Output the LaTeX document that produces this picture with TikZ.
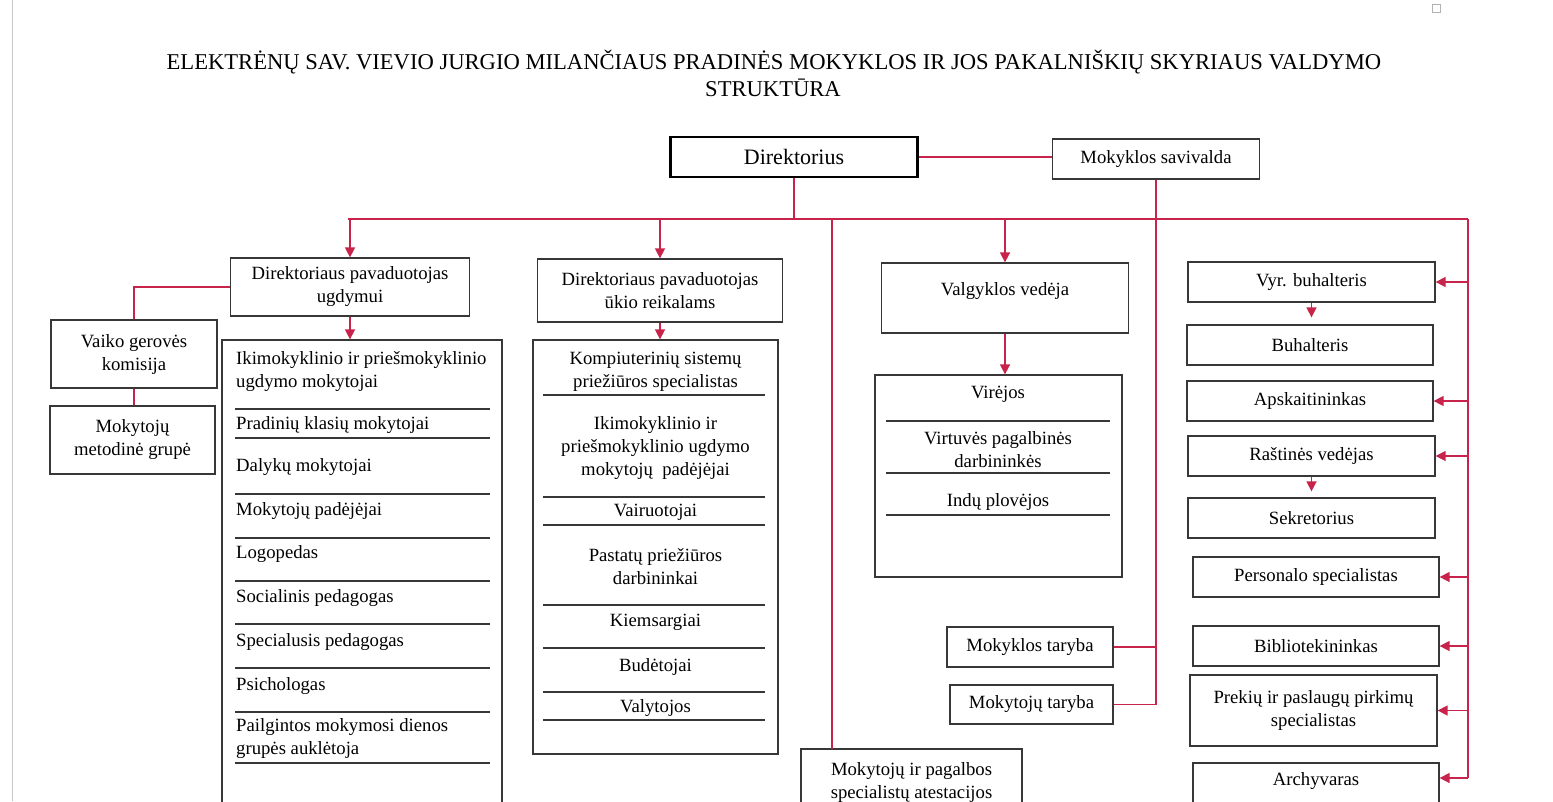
\documentclass[tikz,border=0pt]{standalone}
\usepackage{fontspec}
\setmainfont{Liberation Serif}
\usetikzlibrary{arrows.meta}
\definecolor{linkred}{RGB}{200,35,75}
\definecolor{boxgray}{RGB}{55,55,55}
\newcommand\BoxFont{\fontsize{18.7pt}{23pt}\selectfont}
\newcommand\TitleFont{\fontsize{22.6pt}{26pt}\selectfont}
\newcommand\DirFont{\fontsize{22pt}{26pt}\selectfont}
\tikzset{
 box/.style={draw=boxgray, line width=1.3pt, fill=white, inner sep=0pt, align=center, font=\BoxFont},
 txt/.style={inner sep=0pt, font=\BoxFont, yshift=-1.5pt},
 ctxt/.style={txt, align=center},
 ltxt/.style={txt, align=left, anchor=west},
 sepline/.style={draw=boxgray, line width=1.3pt},
 conn/.style={draw=linkred, line width=1.6pt},
 arr/.style={conn, -{Triangle[length=10pt,width=10pt]}},
}
\begin{document}
\begin{tikzpicture}[x=1pt,y=-1pt]
\fill[white] (0,0) rectangle (1553,801);
\useasboundingbox (0,0) rectangle (1553,801);
\clip (0,0) rectangle (1553,801);

% page decorations
\draw[gray!45, line width=0.8pt] (12,0) -- (12,801);
\draw[gray!60, line width=0.6pt] (1432,4) rectangle (1440,12);

% title
\node[font=\TitleFont, inner sep=0pt] (t1) at (774,62) {ELEKTRĖNŲ SAV. VIEVIO JURGIO MILANČIAUS PRADINĖS MOKYKLOS IR JOS PAKALNIŠKIŲ SKYRIAUS VALDYMO};
\node[font=\TitleFont, inner sep=0pt] (t2) at (773,88) {STRUKTŪRA};

% top
\node[box, draw=black, line width=2.6pt, font=\DirFont, minimum width=247pt, minimum height=40pt] (dir) at (794,157) {Direktorius};
\node[box, minimum width=207pt, minimum height=40pt] (sav) at (1156,159) {Mokyklos savivalda};

% level 2
\node[box, minimum width=239pt, minimum height=58pt] (dpu) at (350,287) {Direktoriaus pavaduotojas\\ugdymui};
\node[box, minimum width=245pt, minimum height=63pt] (dpk) at (660,290.5) {Direktoriaus pavaduotojas\\ūkio reikalams};
\node[box, minimum width=247pt, minimum height=70pt] (vv) at (1005,298) {};
\node[ctxt] (vvt) at (1005,290) {Valgyklos vedėja};

% left small boxes
\node[box, minimum width=166pt, minimum height=68pt] (vgk) at (134,354) {Vaiko gerovės\\komisija};
\node[box, minimum width=165pt, minimum height=68pt] (mmg) at (132.5,440) {Mokytojų\\metodinė grupė};

% list 1
\node[box, minimum width=280pt, minimum height=490pt] (l1) at (362,585) {};
\node[ltxt] (a1) at (236,370.5) {Ikimokyklinio ir priešmokyklinio\\ugdymo mokytojai};
\node[ltxt] (a2) at (236,424) {Pradinių klasių mokytojai};
\node[ltxt] (a3) at (236,466) {Dalykų mokytojai};
\node[ltxt] (a4) at (236,510) {Mokytojų padėjėjai};
\node[ltxt] (a5) at (236,553) {Logopedas};
\node[ltxt] (a6) at (236,597) {Socialinis pedagogas};
\node[ltxt] (a7) at (236,641) {Specialusis pedagogas};
\node[ltxt] (a8) at (236,685) {Psichologas};
\node[ltxt] (a9) at (236,737) {Pailgintos mokymosi dienos\\grupės auklėtoja};
\foreach \yy in {409,438,494,538,581,624,668,712,763}
  \draw[sepline] (235,\yy) -- (490,\yy);

% list 2
\node[box, minimum width=245pt, minimum height=414pt] (l2) at (655.5,547) {};
\node[ctxt] (b1) at (655.5,370.5) {Kompiuterinių sistemų\\priežiūros specialistas};
\node[ctxt] (b2) at (655.5,447) {Ikimokyklinio ir\\priešmokyklinio ugdymo\\mokytojų\ \ padėjėjai};
\node[ctxt] (b3) at (655.5,511) {Vairuotojai};
\node[ctxt] (b4) at (655.5,565) {Pastatų priežiūros\\darbininkai};
\node[ctxt] (b5) at (655.5,621) {Kiemsargiai};
\node[ctxt] (b6) at (655.5,665) {Budėtojai};
\node[ctxt] (b7) at (655.5,707) {Valytojos};
\foreach \yy in {395,497,525,605,648,692,720}
  \draw[sepline] (543,\yy) -- (765,\yy);

% kitchen list
\node[box, minimum width=247pt, minimum height=202pt] (kit) at (998.5,476) {};
\node[ctxt] (k1) at (998,393) {Virėjos};
\node[ctxt] (k2) at (998,448) {Virtuvės pagalbinės\\darbininkės};
\node[ctxt] (k3) at (998,500) {Indų plovėjos};
\foreach \yy in {421,473}
  \draw[sepline] (886,\yy) -- (1110,\yy);
\draw[sepline, line width=2.2pt] (886,515) -- (1110,515);

% councils
\node[box, minimum width=166pt, minimum height=40pt] (mt) at (1030,647) {Mokyklos taryba};
\node[box, minimum width=163pt, minimum height=39pt] (mkt) at (1031.5,704.5) {Mokytojų taryba};

% attestation
\node[box, minimum width=221pt, minimum height=81pt] (atest) at (911.5,789.5) {};
\node[ctxt] (att) at (911.5,780.5) {Mokytojų ir pagalbos\\specialistų atestacijos};

% right column
\node[box, minimum width=247pt, minimum height=40pt] (vb) at (1311.5,282) {Vyr. buhalteris};
\node[box, minimum width=246pt, minimum height=40pt] (bh) at (1310,345) {Buhalteris};
\node[box, minimum width=246pt, minimum height=40pt] (ap) at (1310,401) {Apskaitininkas};
\node[box, minimum width=247pt, minimum height=40pt] (rv) at (1311.5,456) {Raštinės vedėjas};
\node[box, minimum width=247pt, minimum height=40pt] (sk) at (1311.5,518) {Sekretorius};
\node[box, minimum width=246pt, minimum height=40pt] (ps) at (1316,577) {Personalo specialistas};
\node[box, minimum width=246pt, minimum height=40pt] (bib) at (1316,646) {Bibliotekininkas};
\node[box, minimum width=247pt, minimum height=71pt] (pr) at (1313.5,710.5) {Prekių ir paslaugų pirkimų\\specialistas};
\node[box, minimum width=246pt, minimum height=44pt] (arch) at (1316,785) {};
\node[ctxt] (archt) at (1316,780) {Archyvaras};

% connectors
\coordinate (busL) at (348,219);
\coordinate (busR) at (1468,219);
\coordinate (rEnd) at (1468,778);
\coordinate (atTop) at (832,749);
\draw[conn] (dir.east) -- (dir.east -| sav.west);
\draw[conn] (dir.south) -- (dir.south |- busL);
\draw[conn] (busL) -- (busR);
\draw[arr] (dpu.north |- busL) -- (dpu.north);
\draw[arr] (dpk.north |- busL) -- (dpk.north);
\draw[conn] (atTop |- busL) -- (atTop);
\draw[arr] (vv.north |- busL) -- (vv.north);
\draw[conn] (busR) -- (rEnd);

\draw[conn] (dpu.west) -| (vgk.north);
\draw[conn] (vgk.south) -- (vgk.south |- mmg.north);
\draw[arr] (dpu.south) -- (dpu.south |- l1.north);
\draw[arr] (dpk.south) -- (dpk.south |- l2.north);
\draw[arr] (vv.south) -- (vv.south |- kit.north);

\draw[conn] (sav.south) |- (mkt.east);
\draw[conn] (mt.east) -- (mt.east -| sav.south);

\draw[arr] (vb.east -| busR) -- (vb.east);
\draw[arr] (ap.east -| busR) -- (ap.east);
\draw[arr] (rv.east -| busR) -- (rv.east);
\draw[arr] (ps.east -| busR) -- (ps.east);
\draw[arr] (bib.east -| busR) -- (bib.east);
\draw[arr] (pr.east -| busR) -- (pr.east);
\draw[arr] (rEnd) -- (rEnd -| arch.east);
\draw[arr, shorten >=7pt] (vb.south) -- (vb.south |- bh.north);
\draw[arr, shorten >=6pt] (rv.south) -- (rv.south |- sk.north);
\end{tikzpicture}
\end{document}
